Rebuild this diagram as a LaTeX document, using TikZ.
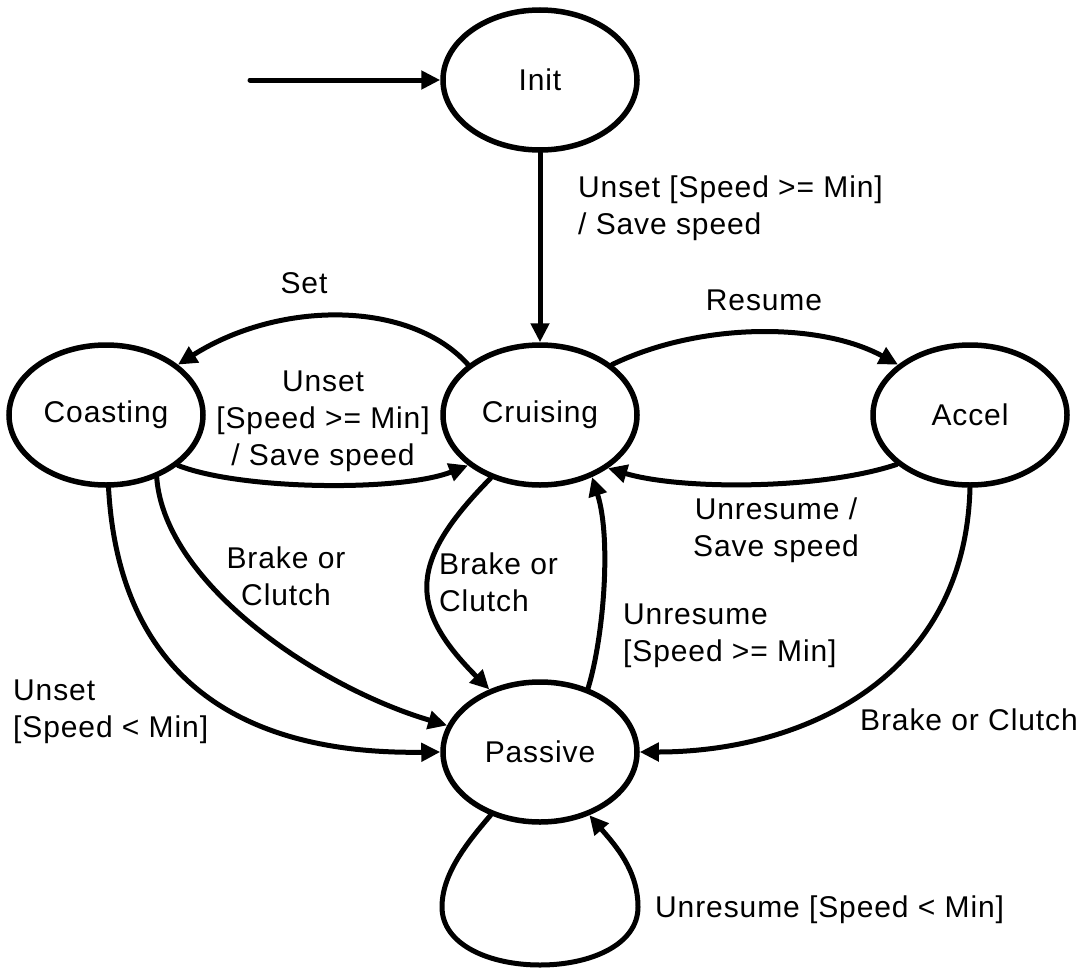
\documentclass[tikz,border=0pt]{standalone}
\usepackage{fontspec}
\setmainfont{Liberation Sans}[LetterSpace=3]
\usetikzlibrary{shapes.geometric,arrows.meta}
\newcommand\lblfont{\fontsize{30}{37}\selectfont}
\begin{document}
\begin{tikzpicture}[x=1pt,y=-1pt,
  state/.style={ellipse,draw,line width=5.5pt,minimum width=194pt,minimum height=140pt,inner sep=0pt,font=\lblfont},
  arr/.style={line width=5pt,line cap=round,-{Triangle[length=19pt,width=18pt]}},
  lab/.style={inner sep=0pt,font=\lblfont}]
\useasboundingbox (0,0) rectangle (1084,969);
% states
\node[state] (init) at (540,80) {Init};
\node[state] (coa) at (106,415) {Coasting};
\node[state] (cru) at (540,415) {Cruising};
\node[state] (acc) at (970,415) {Accel};
\node[state] (pas) at (540,752) {Passive};
\coordinate (st) at (250,80);
% transitions
\draw[arr] (st) -- (init);
\draw[arr] (init) -- (cru);
\draw[arr] (cru.145) .. controls (410,300) and (280,300) .. (coa.35);
\draw[arr] (coa.-35) .. controls (240,490) and (400,492) .. (cru.-145);
\draw[arr] (cru.35) .. controls (700,322) and (820,322) .. (acc.145);
\draw[arr] (acc.-146) .. controls (820,490) and (680,490) .. (cru.-38);
\draw[arr] (cru.-128) .. controls (409,561) and (407,607) .. (pas.129);
\draw[arr] (pas.53) .. controls (603,640) and (612,540) .. (cru.-50);
\draw[arr] (coa.-51) .. controls (165,585) and (320,688) .. (pas.164);
\draw[arr] (coa.-88) .. controls (118,660) and (220,755) .. (pas.west);
\draw[arr] (acc.-90) .. controls (965,680) and (800,752) .. (pas.east);
\draw[arr] (pas.-128) .. controls (465,845) and (442,875) .. (442,907)
  .. controls (442,945) and (490,965) .. (540,965)
  .. controls (590,965) and (638,945) .. (638,907)
  .. controls (638,870) and (615,845) .. (pas.-52);
% labels
\node[lab,anchor=west,align=left] (l1) at (578,208) {Unset {[}Speed >= Min{]}\\/ Save speed};
\node[lab] (l2) at (304,283) {Set};
\node[lab] (l3) at (764,300) {Resume};
\node[lab,align=center] (l4) at (323,421) {Unset\\{[}Speed >= Min{]}\\/ Save speed};
\node[lab,align=center] (l5) at (776,530) {Unresume /\\Save speed};
\node[lab,align=center] (l6) at (286,576) {Brake or\\Clutch};
\node[lab,anchor=west,align=left] (l7) at (439,582) {Brake or\\Clutch};
\node[lab,anchor=west,align=left] (l8) at (623,636) {Unresume\\{[}Speed >= Min{]}};
\node[lab,anchor=west,align=left] (l9) at (13,712) {Unset\\{[}Speed < Min{]}};
\node[lab,anchor=west] (l10) at (860,720) {Brake or Clutch};
\node[lab,anchor=west] (l11) at (655,910) {Unresume {[}Speed < Min{]}};
\end{tikzpicture}
\end{document}
